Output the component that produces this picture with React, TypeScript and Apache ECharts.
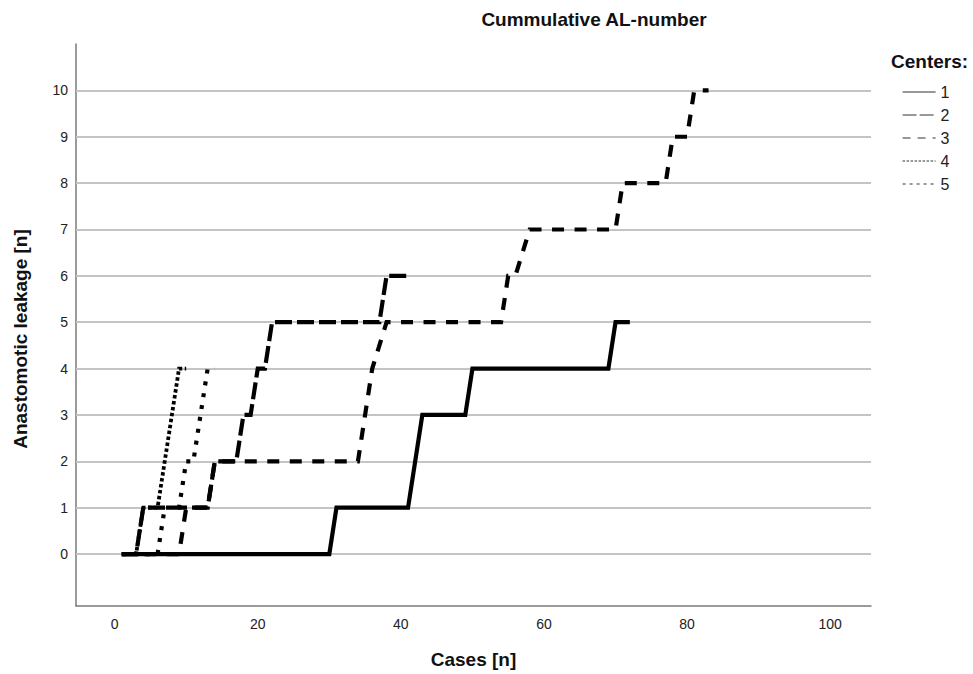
import React, { useEffect, useRef } from "react";
import * as echarts from "echarts";

// Cumulative anastomotic leakage count per center: [case number, cumulative AL]
const center1 = [[1, 0], [30, 0], [31, 1], [41, 1], [42, 2], [43, 3], [49, 3], [50, 4], [69, 4], [70, 5], [72, 5]];
const center2 = [[1, 0], [3, 0], [4, 1], [13, 1], [14, 2], [17, 2], [18, 3], [19, 3], [20, 4], [21, 4], [22, 5], [37, 5], [38, 6], [41, 6]];
const center3 = [[1, 0], [9, 0], [10, 1], [13, 1], [14, 2], [34, 2], [35, 3], [36, 4], [38, 5], [54, 5], [55, 6], [56, 6], [58, 7], [70, 7], [71, 8], [77, 8], [78, 9], [80, 9], [81, 10], [83, 10]];
const center4 = [[1, 0], [3, 0], [4, 1], [6, 1], [7, 2], [8, 3], [9, 4], [10, 4]];
const center5 = [[1, 0], [6, 0], [7, 1], [9, 1], [10, 2], [11, 2], [12, 3], [13, 4], [14, 4]];

const centerNames = ["1", "2", "3", "4", "5"];
const xTicks = [0, 20, 40, 60, 80, 100];
const yTicks = [0, 1, 2, 3, 4, 5, 6, 7, 8, 9, 10];

const FONT = "'Liberation Sans', Arial, sans-serif";

export default function App() {
  const ref = useRef<HTMLDivElement>(null);
  useEffect(() => {
    if (!ref.current) return;
    const chart = echarts.init(ref.current, null, { renderer: "svg" });
    const dataSets = [center1, center2, center3, center4, center5];
    const dashes: any[] = ["solid", [17, 5], [12, 10.5], [3.5, 2.5], [4, 8]];
    const legendDashes: any[] = ["solid", [14, 3], [8, 7], [2.5, 1.5], [3, 4]];
    const widths = [4.2, 4.2, 4.2, 3.8, 4.2];

    const lineSeries = dataSets.map((d, i) => ({
      name: centerNames[i],
      type: "line",
      data: d,
      symbol: "none",
      showSymbol: false,
      color: "#000",
      z: 10 + i,
      silent: true,
      lineStyle: { color: "#000", width: widths[i], type: dashes[i], join: "miter", cap: "butt" },
    }));

    chart.setOption({
      animation: false,
      textStyle: { fontFamily: FONT },
      grid: { left: 76, right: 102, top: 44, bottom: 68, containLabel: false },
      xAxis: {
        type: "value",
        min: -5.4,
        max: 105.7,
        name: "Cases [n]",
        nameLocation: "middle",
        nameGap: 44,
        nameTextStyle: { fontSize: 19, fontWeight: "bold", color: "#111", fontFamily: FONT },
        axisLine: { show: true, onZero: false, lineStyle: { color: "#7a7a7a", width: 1.5 } },
        axisTick: { show: false },
        splitLine: { show: false },
        axisLabel: { customValues: xTicks, fontSize: 14, color: "#222", margin: 11, fontFamily: FONT },
      },
      yAxis: {
        type: "value",
        min: -1.12,
        max: 11,
        axisLine: { show: true, onZero: false, lineStyle: { color: "#7a7a7a", width: 1.5 } },
        axisTick: { show: false },
        splitLine: { show: false },
        axisLabel: { customValues: yTicks, fontSize: 14, color: "#222", margin: 8, fontFamily: FONT },
      },
      legend: {
        orient: "vertical",
        left: 902,
        top: 84,
        itemWidth: 33,
        itemHeight: 14,
        itemGap: 7,
        padding: 0,
        selectedMode: false,
        textStyle: { fontSize: 16, color: "#222", fontFamily: FONT },
        data: centerNames.map((n, i) => ({
          name: n,
          itemStyle: { opacity: 0 },
          lineStyle: { width: 1.2, type: legendDashes[i], color: "#333" },
        })),
      },
      graphic: [
        {
          type: "text",
          x: 594,
          y: 10,
          style: { text: "Cummulative AL-number", fill: "#111", font: `bold 19px ${FONT}`, textAlign: "center" },
        },
        {
          type: "text",
          x: 891,
          y: 52,
          style: { text: "Centers:", fill: "#111", font: `bold 19px ${FONT}`, textAlign: "left" },
        },
        {
          type: "text",
          x: 20,
          y: 339,
          rotation: Math.PI / 2,
          style: { text: "Anastomotic leakage [n]", fill: "#111", font: `bold 19px ${FONT}`, textAlign: "center", textVerticalAlign: "middle" },
        },
      ],
      series: [
        {
          name: "grid",
          type: "line",
          data: [],
          z: 1,
          silent: true,
          markLine: {
            z: 1,
            silent: true,
            animation: false,
            symbol: ["none", "none"],
            label: { show: false },
            lineStyle: { color: "#c4c4c4", width: 2, type: "solid" },
            data: yTicks.map((v) => ({ yAxis: v })),
          },
        },
        ...lineSeries,
      ],
    });
    return () => chart.dispose();
  }, []);
  return <div ref={ref} style={{ position: "fixed", left: 0, top: 0, width: 973, height: 674, background: "#fff" }} />;
}
